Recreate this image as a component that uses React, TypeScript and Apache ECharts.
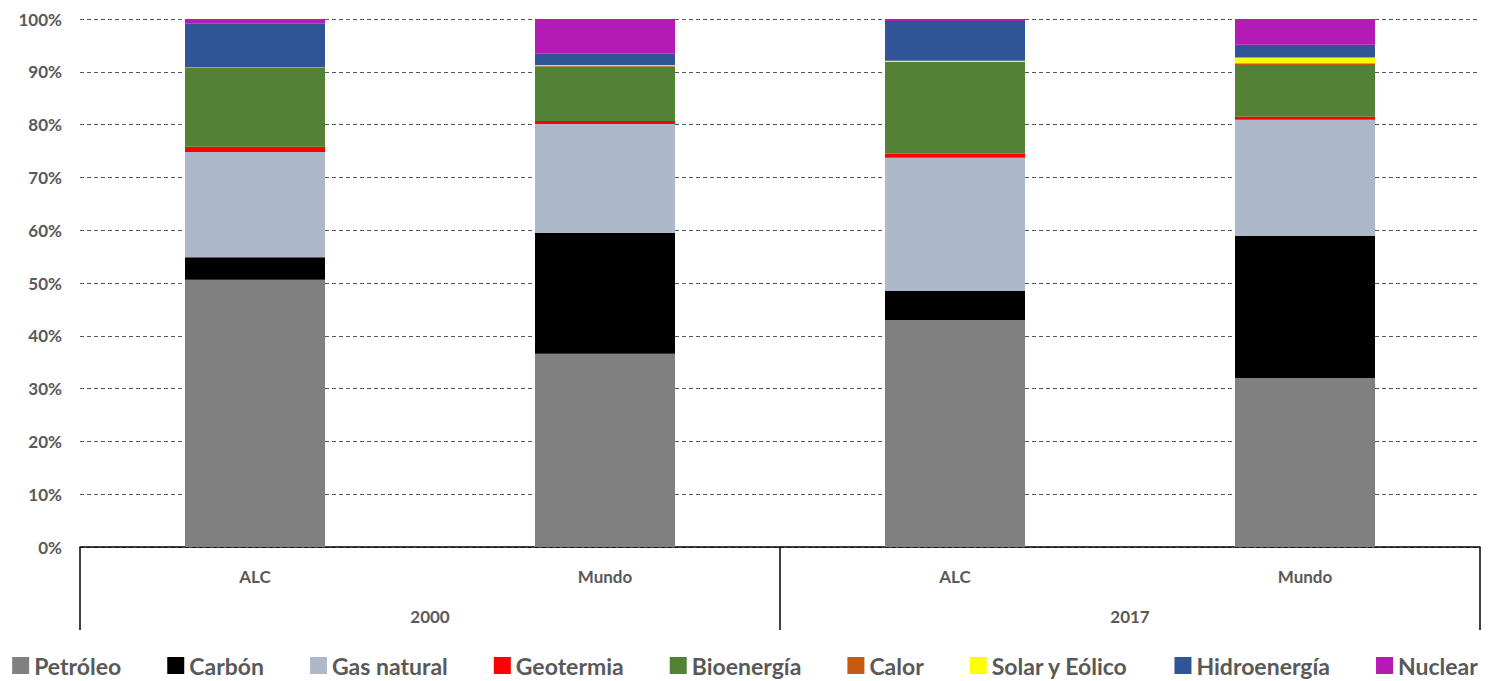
import React, { useEffect, useRef } from "react";
import * as echarts from "echarts";

const subCategories = ["ALC", "Mundo", "ALC", "Mundo"];
const years = ["2000", "2017"];
const yTicks = [0, 10, 20, 30, 40, 50, 60, 70, 80, 90, 100];

const petroleo = [50.6, 36.6, 43.0, 32.0];
const carbon = [4.3, 22.9, 5.5, 26.9];
const gasNatural = [19.9, 20.6, 25.2, 22.0];
const geotermia = [1.0, 0.6, 0.8, 0.6];
const bioenergia = [14.9, 10.3, 17.4, 9.8];
const calor = [0.0, 0.2, 0.0, 0.3];
const solarEolico = [0.1, 0.1, 0.2, 1.1];
const hidroenergia = [8.3, 2.1, 7.5, 2.4];
const nuclear = [0.9, 6.6, 0.4, 4.9];

const seriesDefs = [
  { name: "Petróleo", data: petroleo, color: "#808080" },
  { name: "Carbón", data: carbon, color: "#000000" },
  { name: "Gas natural", data: gasNatural, color: "#ADB9CA" },
  { name: "Geotermia", data: geotermia, color: "#FF0000" },
  { name: "Bioenergía", data: bioenergia, color: "#538135" },
  { name: "Calor", data: calor, color: "#C55A11" },
  { name: "Solar y Eólico", data: solarEolico, color: "#FFFF00" },
  { name: "Hidroenergía", data: hidroenergia, color: "#2F5597" },
  { name: "Nuclear", data: nuclear, color: "#B41AB4" },
];

const FONT = "Lato, 'Open Sans', sans-serif";

export default function App() {
  const ref = useRef<HTMLDivElement>(null);
  useEffect(() => {
    if (!ref.current) return;
    const chart = echarts.init(ref.current, null, { renderer: "svg" });
    chart.setOption({
      animation: false,
      backgroundColor: "#ffffff",
      grid: { left: 80, right: 10, top: 19, bottom: 134, containLabel: false },
      legend: {
        bottom: -1,
        left: "center",
        itemWidth: 17,
        itemHeight: 17,
        itemGap: 46,
        icon: "rect",
        textStyle: { fontFamily: FONT, fontWeight: "bold", fontSize: 23, color: "#595959" },
        data: seriesDefs.map((s) => s.name),
      },
      xAxis: [
        {
          type: "category",
          data: subCategories,
          position: "bottom",
          axisLine: { show: true, lineStyle: { color: "#000000", width: 1.5 } },
          axisTick: { show: false },
          axisLabel: { margin: 21, fontFamily: FONT, fontWeight: "bold", fontSize: 17, color: "#595959" },
          splitLine: { show: false },
        },
        {
          type: "category",
          data: years,
          position: "bottom",
          axisLine: { show: false },
          axisTick: { show: true, length: 83, lineStyle: { color: "#000000", width: 1.5 } },
          axisLabel: { margin: 61, fontFamily: FONT, fontWeight: "bold", fontSize: 17, color: "#595959" },
          splitLine: { show: false },
        },
      ],
      yAxis: {
        type: "value",
        min: 0,
        max: 100,
        interval: 10,
        axisLine: { show: false },
        axisTick: { show: false },
        axisLabel: {
          margin: 18,
          fontFamily: FONT,
          fontWeight: "bold",
          fontSize: 17,
          color: "#595959",
          formatter: (v: number) => (yTicks.includes(v) ? v + "%" : ""),
        },
        splitLine: { show: true, lineStyle: { color: "#595959", type: [4, 3], width: 1 } },
      },
      series: seriesDefs.map((s) => ({
        name: s.name,
        type: "bar",
        stack: "total",
        xAxisIndex: 0,
        barWidth: "40%",
        data: s.data,
        itemStyle: { color: s.color },
        emphasis: { disabled: true },
      })),
    });
    return () => chart.dispose();
  }, []);
  return (
    <div
      ref={ref}
      style={{ position: "fixed", left: 0, top: 0, width: 1490, height: 681 }}
    />
  );
}
